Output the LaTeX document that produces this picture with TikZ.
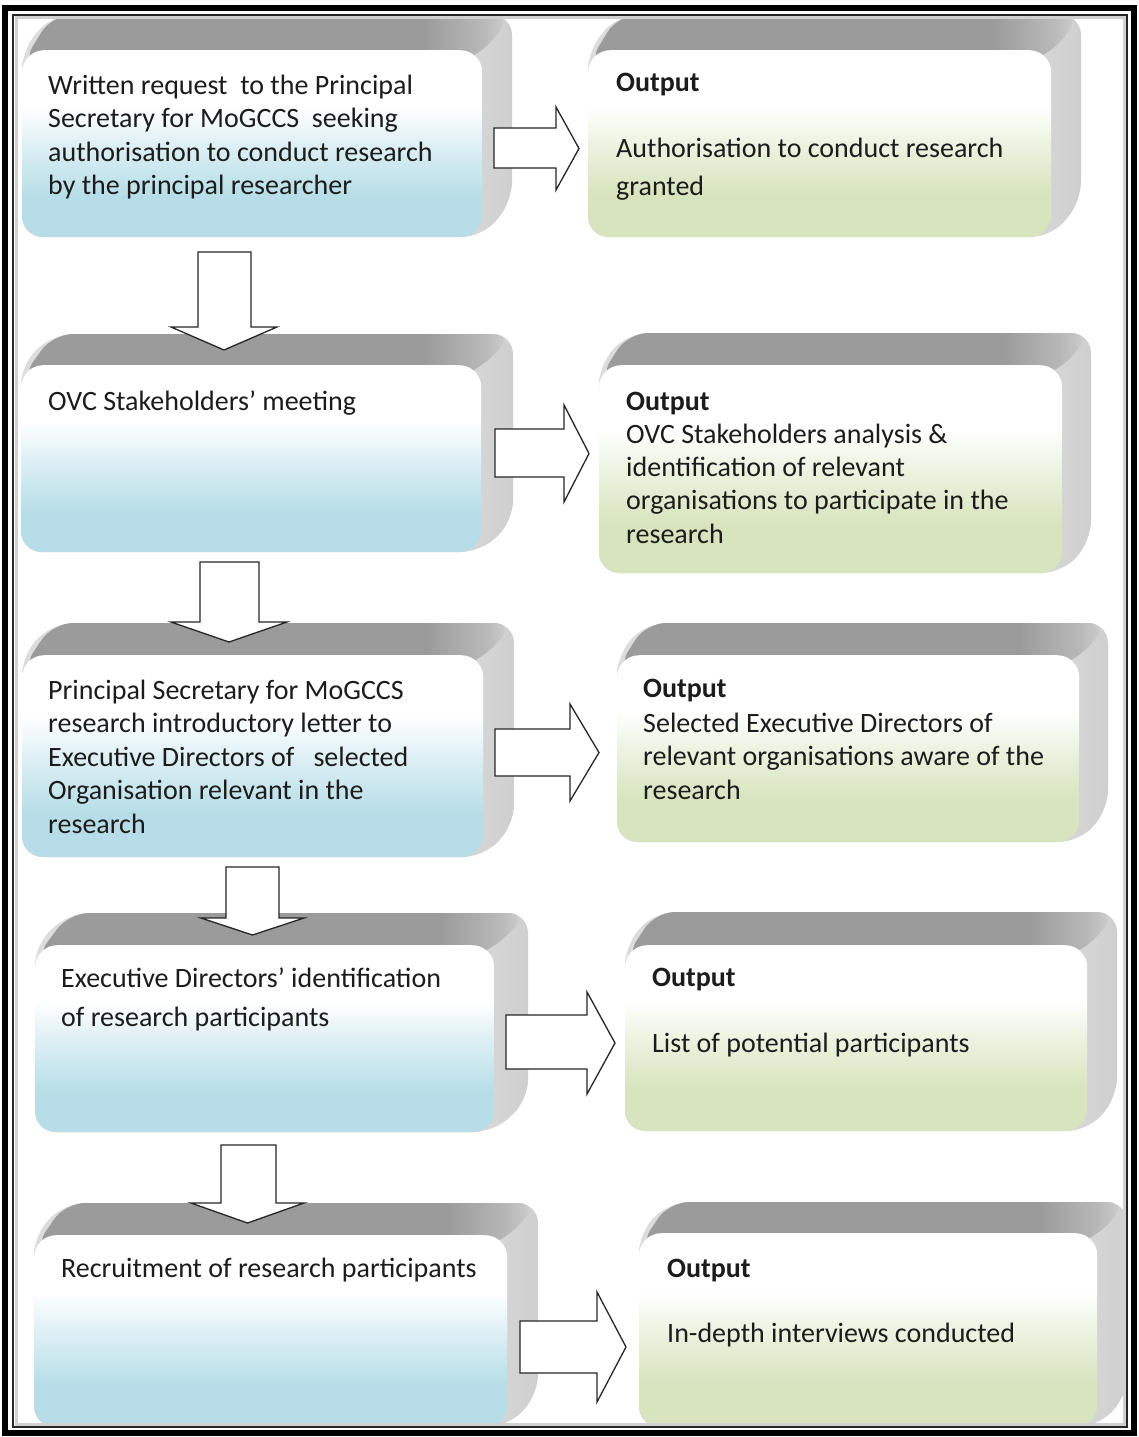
\documentclass[tikz,border=0pt]{standalone}
\usepackage{fontspec}
\setmainfont{Carlito}
\usetikzlibrary{calc}

\definecolor{aquaface}{HTML}{B7DEE8}
\definecolor{olivface}{HTML}{D7E4BD}
\definecolor{bevtop}{HTML}{9B9B9B}
\definecolor{bevside}{HTML}{DCDCDC}
\definecolor{inktext}{HTML}{1C1C1C}

% vertical fades for the front faces (25bp = bottom edge, 75bp = top edge)
\pgfdeclareverticalshading{aquafade}{100bp}{color(0bp)=(aquaface); color(25bp)=(aquaface); color(36bp)=(aquaface); color(50bp)=(aquaface!45!white); color(60bp)=(white); color(100bp)=(white)}
\pgfdeclareverticalshading{olivfade}{100bp}{color(0bp)=(olivface); color(25bp)=(olivface); color(36bp)=(olivface); color(50bp)=(olivface!45!white); color(60bp)=(white); color(100bp)=(white)}
% top bevel: flat grey that softens into the side near the right corner
\pgfdeclarehorizontalshading{bevelfade}{100bp}{color(0bp)=(bevtop); color(25bp)=(bevtop); color(66bp)=(bevtop); color(72bp)=(bevtop!55!bevside); color(75bp)=(bevside!85!bevtop); color(100bp)=(bevside!85!bevtop)}
% side bevel: slightly darker towards the outer edge
\pgfdeclarehorizontalshading{sidefade}{100bp}{color(0bp)=(bevside); color(25bp)=(bevside); color(68bp)=(bevside); color(75bp)=(bevside!80!bevtop); color(100bp)=(bevside!80!bevtop)}

\tikzset{
  face/.style={shade, rounded corners=22pt, inner sep=0pt, draw=none},
  facetext/.style={inner sep=0pt, anchor=base west, text=inktext, font=\fontsize{28}{33.6}\selectfont},
  headtext/.style={facetext, font=\fontsize{28}{33.6}\selectfont\bfseries},
  blockarrow/.style={fill=white, draw=black!85, line width=1.3pt, line join=miter},
}

% lines of a text block, first baseline at the node's base
\newcommand\stackedlines[1]{\begin{tabular}[t]{@{}l@{}}#1\end{tabular}}

% raised slab: #1 name, #2 x0, #3 y0, #4 x1, #5 y1 (front face), #6 depth right, #7 depth up, #8 fade
\newcommand\slab[8]{%
  \shade[shading=sidefade, rounded corners=20pt] (#2,#5) -- (#2,#3) -- ({#2+#6},{#3-#7}) -- ({#4+#6},{#3-#7}) -- ({#4+#6},{#5-#7}) -- (#4,#5) -- cycle;
  \shade[shading=bevelfade, rounded corners=20pt] (#2,{#3+14}) -- ({#2+#6},{#3-#7}) -- ({#4+#6},{#3-#7}) -- (#4,{#3+4}) -- ({#4-30},{#3+14}) -- cycle;
  \node[face, shading=#8, minimum width={(#4-#2)*1pt}, minimum height={(#5-#3)*1pt}, anchor=north west] (#1) at (#2,#3) {};
}

% block arrow pointing right: #1 shaft x, #2/#3 shaft top/bottom, #4 head base x, #5/#6 head top/bottom, #7 tip x
\newcommand\rightblock[7]{%
  \draw[blockarrow] (#1,#2) -- (#4,#2) -- (#4,#5) -- (#7,{(#5+#6)/2}) -- (#4,#6) -- (#4,#3) -- (#1,#3) -- cycle;
}
% block arrow pointing down: #1/#2 shaft left/right, #3 shaft top, #4 head base y, #5/#6 head left/right, #7 tip y
\newcommand\downblock[7]{%
  \draw[blockarrow] (#1,#3) -- (#2,#3) -- (#2,#4) -- (#6,#4) -- ({(#5+#6)/2},#7) -- (#5,#4) -- (#1,#4) -- cycle;
}

\begin{document}
\begin{tikzpicture}[x=1pt, y=-1pt]
  \useasboundingbox (0,0) rectangle (1139,1437);
  \fill[white] (0,0) rectangle (1139,1437);

  % steps (left column)
  \slab{L1}{22}{50}{482}{237}{30}{35}{aquafade}
  \slab{L2}{21}{365}{481}{552}{32}{31}{aquafade}
  \slab{L3}{22}{655}{483}{857}{31}{32}{aquafade}
  \slab{L4}{35}{945}{494}{1132}{34}{32}{aquafade}
  \slab{L5}{34}{1235}{507}{1427}{31}{32}{aquafade}

  % outputs (right column)
  \slab{R1}{588}{50}{1051}{237}{30}{35}{olivfade}
  \slab{R2}{599}{365}{1062}{573}{29}{32}{olivfade}
  \slab{R3}{617}{655}{1079}{842}{29}{32}{olivfade}
  \slab{R4}{625}{945}{1087}{1131}{30}{33}{olivfade}
  \slab{R5}{639}{1233}{1097}{1427}{30}{31}{olivfade}

  % texts of the steps
  \node[facetext] (L1t) at (48,94) {\stackedlines{Written request\ \ to the Principal\\ Secretary for MoGCCS\ \ seeking\\ authorisation to conduct research\\ by the principal researcher}};
  \node[facetext] (L2t) at (48,410) {OVC Stakeholders’ meeting};
  \node[facetext] (L3t) at (48,699) {\stackedlines{Principal Secretary for MoGCCS\\ research introductory letter to\\ Executive Directors of\ \ \ selected\\ Organisation relevant in the\\ research}};
  \node[facetext, font=\fontsize{28}{39}\selectfont] (L4t) at (61,987) {\stackedlines{Executive Directors’ identification\\ of research participants}};
  \node[facetext] (L5t) at (61,1277) {Recruitment of research participants};

  % texts of the outputs
  \node[headtext] (R1h) at (616,92) {Output};
  \node[facetext, font=\fontsize{28}{38}\selectfont] (R1t) at (616,157) {\stackedlines{Authorisation to conduct research\\ granted}};
  \node[headtext] (R2h) at (626,410) {Output};
  \node[facetext, font=\fontsize{28}{33.4}\selectfont] (R2t) at (626,443) {\stackedlines{OVC Stakeholders analysis \&\\ identification of relevant\\ organisations to participate in the\\ research}};
  \node[headtext] (R3h) at (643,697) {Output};
  \node[facetext, font=\fontsize{28}{33.5}\selectfont] (R3t) at (643,732) {\stackedlines{Selected Executive Directors of\\ relevant organisations aware of the\\ research}};
  \node[headtext] (R4h) at (652,986) {Output};
  \node[facetext] (R4t) at (652,1052) {List of potential participants};
  \node[headtext] (R5h) at (667,1277) {Output};
  \node[facetext] (R5t) at (667,1342) {In-depth interviews conducted};

  % arrows from each step to its output
  \rightblock{494}{128}{168}{556}{107}{190}{579}
  \rightblock{495}{429}{477}{564}{405}{502}{589}
  \rightblock{495}{729}{776}{570}{704}{801}{599}
  \rightblock{506}{1015}{1069}{587}{992}{1094}{615}
  \rightblock{520}{1321}{1373}{597}{1292}{1402}{626}

  % arrows between consecutive steps
  \downblock{198}{251}{252}{327}{171}{277}{350}
  \downblock{200}{259}{562}{622}{171}{287}{642}
  \downblock{226}{279}{867}{918}{201}{304}{935}
  \downblock{221}{276}{1145}{1203}{191}{304}{1223}

  % double frame with a faint inner shadow
  \draw[black!18, line width=3pt] (16,18) rectangle (1124,1424);
  \draw[black!85, line width=1.4pt] (13,15) rectangle (1127,1427);
  \draw[black, line width=6pt] (5,8) rectangle (1134,1433);
\end{tikzpicture}
\end{document}
